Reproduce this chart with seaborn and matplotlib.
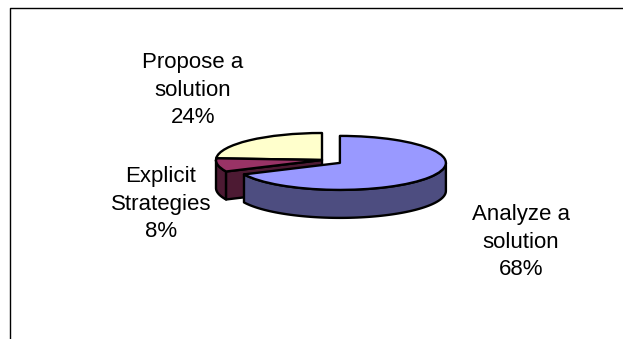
import numpy as np
import matplotlib
matplotlib.use("Agg")
import matplotlib.pyplot as plt
from matplotlib.lines import Line2D
import seaborn as sns

categories = ["Propose a\nsolution\n24%", "Explicit\nStrategies\n8%", "Analyze a\nsolution\n68%"]
values = [24, 8, 68]
explode = [0, 0, 0.2]
top_colors = ["#FFFFCC", "#993366", "#9999FF"]
side_colors = ["#80806A", "#4D1A33", "#4D4D80"]
label_px = [(193, 90), (161, 204), (521, 242)]

W, H = 623, 339
RX, RY, DEPTH = 106, 27, 28
CX, CY = 322, 160

sns.set_theme(style="white")
plt.rcParams["font.family"] = ["Liberation Sans", "DejaVu Sans"]

fig = plt.figure(figsize=(W / 100, H / 100), dpi=100)
ax = fig.add_axes([0, 0, 1, 1])
wedges, _ = ax.pie(values, colors=sns.color_palette(top_colors), explode=explode,
                   startangle=90, counterclock=True,
                   wedgeprops=dict(edgecolor="black", linewidth=1.7, joinstyle="round"))
ax.set_aspect("auto")
ax.set_xlim(-CX / RX, (W - CX) / RX)
ax.set_ylim(-(H - CY) / RY, CY / RY)
d = DEPTH / RY
edge = dict(edgecolor="black", linewidth=1.7, joinstyle="round")

z = 2
for w, sc in zip(wedges, side_colors):
    cx, cy = w.center
    t1, t2 = w.theta1, w.theta2
    # visible outer wall: the part of the rim on the front half
    a, b = max(t1, 180), min(t2, 360)
    if b > a:
        th = np.radians(np.linspace(a, b, 80))
        xs = cx + np.cos(th)
        ys = cy + np.sin(th)
        ax.fill(np.r_[xs, xs[::-1]], np.r_[ys, ys[::-1] - d], facecolor=sc, zorder=z, **edge)
    # visible cut face: the clockwise-end face of a slice ending on the front left
    if 180 < t2 < 270:
        th = np.radians(t2)
        rx, ry = cx + np.cos(th), cy + np.sin(th)
        ax.fill([cx, rx, rx, cx], [cy, ry, ry - d, cy - d], facecolor=sc, zorder=z + 1, **edge)
    w.set_zorder(z + 2)
    z += 4

for text, (px, py) in zip(categories, label_px):
    fig.text(px / W, 1 - py / H, text, ha="center", va="center", fontsize=16,
             color="black", linespacing=1.38, multialignment="center")

fig.add_artist(Line2D([9.5 / W, 9.5 / W, 1], [0, 1 - 8 / H, 1 - 8 / H], color="black", linewidth=1))
fig.savefig("out.png", dpi=100, facecolor="white")
